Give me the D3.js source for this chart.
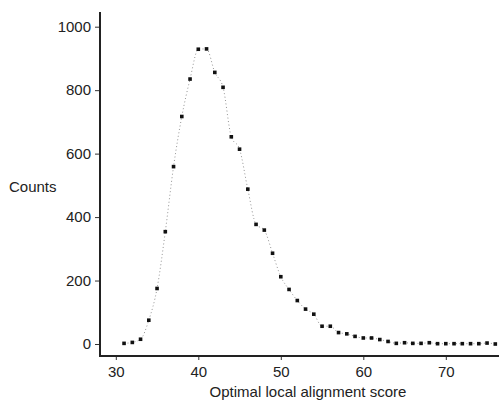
<!DOCTYPE html>
<html>
<head>
<meta charset="utf-8">
<script src="https://cdn.jsdelivr.net/npm/d3@7"></script>
<style>
  html, body { margin: 0; padding: 0; background: #fff; }
  svg { display: block; }
  text { font-family: "Liberation Sans", Arial, Helvetica, sans-serif; fill: #222; }
</style>
</head>
<body>
<svg id="chart" width="499" height="401"></svg>
<script>
const scores = [31,32,33,34,35,36,37,38,39,40,41,42,43,44,45,46,47,48,49,50,51,52,53,54,55,56,57,58,59,60,61,62,63,64,65,66,67,68,69,70,71,72,73,74,75,76];
const counts = [2,5,15,75,175,354,559,717,835,929,930,856,809,653,614,488,377,359,286,212,172,137,110,94,56,56,36,32,24,19,19,14,8,2,4,2,2,4,1,1,1,1,1,1,3,0];
const xTicks = [30,40,50,60,70];
const yTicks = [0,200,400,600,800,1000];
const xLabel = "Optimal local alignment score";
const yLabel = "Counts";

const data = scores.map((s, i) => ({ x: s, y: counts[i] }));

const svg = d3.select("#chart");
const x = d3.scaleLinear().domain([30, 70]).range([115.8, 445.8]);
const y = d3.scaleLinear().domain([0, 1000]).range([344, 26.7]);

const axisX0 = 100, axisY0 = 356;

// dotted connecting curve
svg.append("path")
  .datum(data)
  .attr("fill", "none")
  .attr("stroke", "#888")
  .attr("stroke-width", 0.9)
  .attr("stroke-dasharray", "1,2.5")
  .attr("d", d3.line().x(d => x(d.x)).y(d => y(d.y)).curve(d3.curveMonotoneX));

// markers
svg.append("g").selectAll("rect")
  .data(data)
  .join("rect")
  .attr("x", d => x(d.x) - 1.8)
  .attr("y", d => y(d.y) - 1.8)
  .attr("width", 3.6)
  .attr("height", 3.6)
  .attr("fill", "#111");

// y axis
const gy = svg.append("g").attr("transform", `translate(${axisX0},0)`)
  .call(d3.axisLeft(y).tickValues(yTicks).tickSize(5).tickPadding(4).tickFormat(d3.format("d")));
gy.select(".domain").remove();
gy.selectAll(".tick line").attr("stroke", "#333").attr("stroke-width", 1);
gy.selectAll(".tick text").style("font-size", "15px").attr("fill", "#222");

// x axis
const gx = svg.append("g").attr("transform", `translate(0,${axisY0})`)
  .call(d3.axisBottom(x).tickValues(xTicks).tickSize(4).tickPadding(6).tickFormat(d3.format("d")));
gx.select(".domain").remove();
gx.selectAll(".tick line").attr("stroke", "#333").attr("stroke-width", 1);
gx.selectAll(".tick text").style("font-size", "15px").attr("fill", "#222");

// axis lines
svg.append("line").attr("x1", axisX0).attr("x2", axisX0).attr("y1", 12).attr("y2", axisY0 + 1)
  .attr("stroke", "#222").attr("stroke-width", 2);
svg.append("line").attr("x1", axisX0 - 1).attr("x2", 499).attr("y1", axisY0).attr("y2", axisY0)
  .attr("stroke", "#222").attr("stroke-width", 2);

// labels
svg.append("text").attr("x", 308).attr("y", 397).attr("text-anchor", "middle")
  .style("font-size", "15px").text(xLabel);
svg.append("text").attr("x", 9).attr("y", 192).attr("text-anchor", "start")
  .style("font-size", "15px").text(yLabel);
</script>
</body>
</html>
